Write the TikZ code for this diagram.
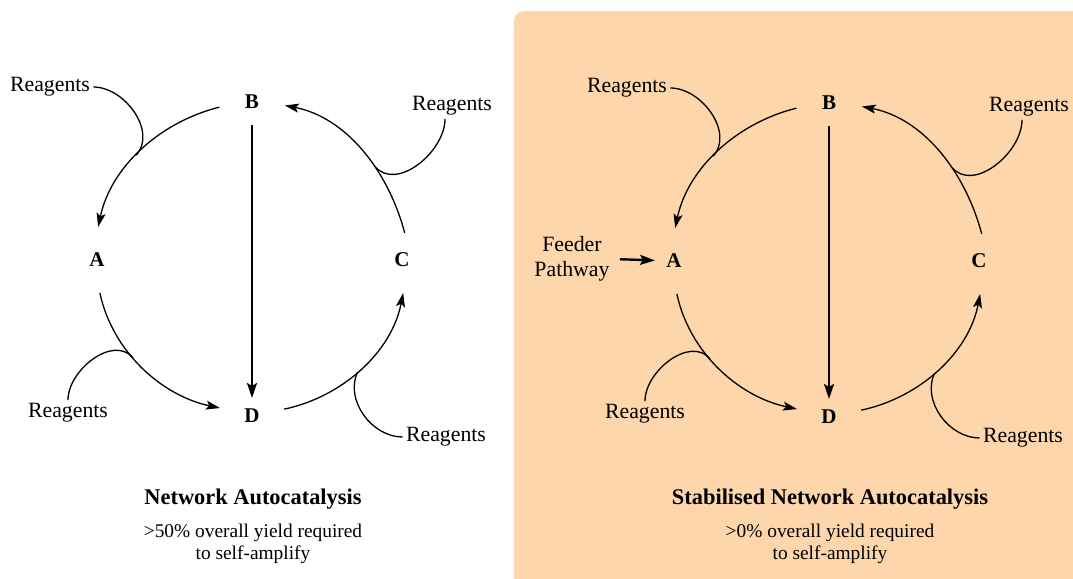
\documentclass[tikz,border=0pt]{standalone}
\usepackage{fontspec}
\setmainfont{Liberation Serif}
\usetikzlibrary{arrows.meta}
\definecolor{panel}{RGB}{253,214,172}
\newcommand\drawcycle[1]{%
  \node[lab] (#1B) at (252,-102) {B};
  \node[lab] (#1A) at (97,-260) {A};
  \node[lab] (#1C) at (402,-260) {C};
  \node[lab] (#1D) at (252,-416) {D};
  \draw[cyc] (#1B.189) to[out=194,in=78] coordinate[pos=0.54] (#1ba) (#1A.88);
  \draw[cyc] (#1A.275) to[out=282,in=168] coordinate[pos=0.42] (#1ad) (#1D.166);
  \draw[cyc] (#1D.12) to[out=12,in=259] coordinate[pos=0.47] (#1dc) (#1C.272);
  \draw[cyc, shorten <=-3pt] (#1C.88) to[out=105,in=349] coordinate[pos=0.37] (#1cb) (#1B.354);
  \draw[bold, shorten <=11.5pt, shorten >=9pt] (#1B.center) -- (#1D.center);
  \node[rg] (#1r1) at (50,-87) {Reagents};
  \node[rg] (#1r2) at (452,-106) {Reagents};
  \node[rg] (#1r3) at (68,-413) {Reagents};
  \node[rg] (#1r4) at (446,-437) {Reagents};
  \draw[thinl] (#1r1.east) to[out=0,in=48] (#1ba);
  \draw[thinl] ([xshift=-3.5pt]#1r2.south) to[out=-90,in=-50] (#1cb);
  \draw[thinl] (#1r3.north) to[out=90,in=130] (#1ad);
  \draw[thinl] (#1r4.west) to[out=180,in=245] (#1dc);
}
\begin{document}
\begin{tikzpicture}[x=0.5pt,y=0.5pt,
  lab/.style={font=\fontsize{10.5}{12}\selectfont\bfseries, circle, minimum size=33pt, inner sep=0pt, outer sep=0pt},
  rg/.style={font=\fontsize{10.9}{12.5}\selectfont, inner sep=1.5pt},
  cyc/.style={line width=0.65pt, looseness=0.92, -{Stealth[length=7pt,width=4.5pt,inset=1.5pt]}},
  thinl/.style={line width=0.65pt},
  bold/.style={line width=1.2pt, -{Stealth[length=7.5pt,width=5pt,inset=1.5pt]}},
  ttl/.style={font=\fontsize{11.2}{13}\selectfont\bfseries},
  sub/.style={font=\fontsize{9.7}{11}\selectfont, align=center},
]
\useasboundingbox (0,0) rectangle (1073,-579);
\clip (0,0) rectangle (1073,-579);
\fill[panel, rounded corners=5pt] (514,-11) rectangle (1090,-600);
\drawcycle{L}
\begin{scope}[shift={(577,-1)}]
\drawcycle{R}
\end{scope}
\node[rg, align=center] (feeder) at (572,-259) {Feeder\\Pathway};
\draw[bold, shorten <=3.5pt, shorten >=9.5pt] (feeder.east) -- (RA.center);
\node[ttl] (t1) at (253,-499) {Network Autocatalysis};
\node[sub] (s1) at (253,-544) {>50\% overall yield required\\to self-amplify};
\node[ttl] (t2) at (830,-499) {Stabilised Network Autocatalysis};
\node[sub] (s2) at (830,-544) {>0\% overall yield required\\to self-amplify};
\end{tikzpicture}
\end{document}
